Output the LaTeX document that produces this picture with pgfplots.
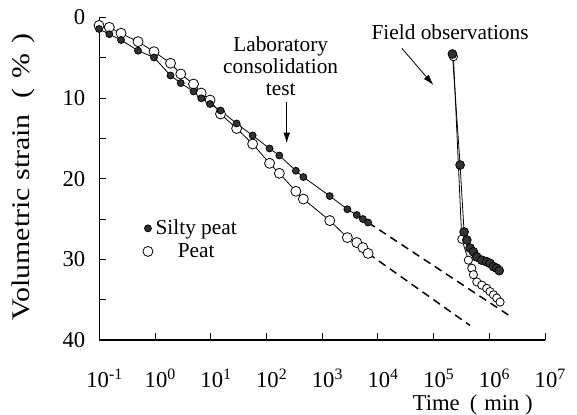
\documentclass[border=0pt]{standalone}
\usepackage{fontspec}
\setmainfont{Liberation Serif}
\newfontfamily\widefont[FakeStretch=1.18]{Liberation Serif}
\usepackage{pgfplots}
\pgfplotsset{compat=1.18}
\usetikzlibrary{arrows.meta}

\begin{document}
\begin{tikzpicture}
\begin{axis}[
  at={(0,0)}, anchor=south west,
  scale only axis, width=334.3pt, height=241.9pt,
  xmode=log, xmin=0.1, xmax=1e7,
  ymin=0, ymax=40, y dir=reverse,
  axis x line=bottom, axis y line=left,
  axis line style={-, line width=0.8pt},
  tick align=inside, major tick length=5pt, minor tick length=5pt,
  tick style={line width=0.6pt, black},
  xtick={0.1,1,10,100,1000,10000,100000,1000000,10000000},
  xticklabels={10\textsuperscript{-1},10\textsuperscript{0},10\textsuperscript{1},10\textsuperscript{2},10\textsuperscript{3},10\textsuperscript{4},10\textsuperscript{5},10\textsuperscript{6},10\textsuperscript{7}},
  xminorticks=false,
  ytick={0,10,20,30,40}, minor ytick={5,15,25,35},
  /pgf/number format/assume math mode=true,
  yticklabel style={font=\fontsize{17}{20}\selectfont, xshift=-7pt},
  xticklabel style={font=\fontsize{17}{20}\selectfont, yshift=-18pt, xshift=4pt},
  xlabel={Time\hspace{0.45em}(\hspace{0.3em}min\hspace{0.25em})},
  xlabel style={font=\fontsize{17}{20}\selectfont, at={([yshift=-48.5pt,xshift=8pt]axis cs:3.25e5,40)}, anchor=center},
  ylabel={\widefont Volumetric strain\hspace{0.6em}(\hspace{0.4em}\%\hspace{0.4em})},
  ylabel style={font=\fontsize{19}{22}\selectfont, at={([xshift=-57.2pt]axis cs:0.1,19.8)}, anchor=center},
  clip=false,
  reverse legend,
  legend image code/.code={\draw[#1] plot[only marks] coordinates {(0.25cm,0cm)};},
  legend style={draw=none, fill=none, font=\fontsize{16}{18}\selectfont,
    at={(axis cs:0.6,24.75)}, anchor=north west, row sep=1pt, inner sep=0pt},
  legend cell align=center,
]

% Peat, laboratory
\addplot[black, line width=0.6pt, mark=*, mark size=3.75pt, mark options={fill=white, draw=black, line width=0.6pt}]
coordinates {
(0.0988,0.99) (0.1512,1.22) (0.2453,1.96) (0.4953,3.00) (0.9594,4.24)
(1.898,5.68) (2.893,7.01) (4.912,8.25) (6.752,9.37) (9.714,10.24)
(14.99,11.97) (29.17,13.77) (56.53,15.69) (113.7,18.09) (170.4,19.33)
(337.2,21.56) (459.7,22.52) (1369,25.19) (2835,27.30) (4180,27.92)
(5380,28.54) (6671,29.26)
};
\addlegendentry{Peat}

% Silty peat, laboratory
\addplot[black, line width=0.6pt, mark=*, mark size=2.6pt, mark options={fill=black!80, draw=black}]
coordinates {
(0.0988,1.43) (0.1512,2.07) (0.2453,2.79) (0.4953,4.12) (0.9594,4.96)
(1.898,7.20) (2.893,8.13) (4.912,9.18) (6.752,10.02) (9.714,10.73)
(14.99,11.54) (29.17,13.15) (56.53,14.64) (113.7,16.25) (170.4,17.12)
(337.2,19.01) (459.7,19.79) (1369,22.15) (2835,23.78) (4180,24.50)
(5380,25.00) (6671,25.43)
};
\addlegendentry{Silty peat\hspace{0.15em}}

% extrapolated lab trends
\addplot[forget plot, black, line width=1.1pt, dash pattern=on 6pt off 4pt]
coordinates {(6671,25.43) (2.2e6,36.9)};
\addplot[forget plot, black, line width=1.1pt, dash pattern=on 6pt off 4pt]
coordinates {(6671,29.26) (4.5e5,38.2)};

% Peat, field
\addplot[forget plot, black, line width=0.6pt, mark=*, mark size=3.1pt, mark options={fill=white, draw=black, line width=0.6pt}]
coordinates {
(2.27e5,4.86) (3.21e5,27.5) (4.21e5,30.1) (4.85e5,31.1) (5.19e5,31.9)
(5.97e5,32.8) (7.33e5,33.2) (9.0e5,33.6) (1.03e6,34.0) (1.19e6,34.4)
(1.36e6,34.8) (1.56e6,35.3)
};

% Silty peat, field
\addplot[forget plot, black, line width=0.6pt, mark=*, mark size=3.3pt, mark options={fill=black!80, draw=black}]
coordinates {
(2.18e5,4.53) (2.99e5,18.3) (3.53e5,26.6) (3.95e5,27.6) (4.52e5,28.6)
(5.18e5,29.06) (5.96e5,29.7) (7.33e5,30.1) (9.0e5,30.3) (1.03e6,30.5)
(1.19e6,30.9) (1.36e6,31.1) (1.51e6,31.4)
};

% annotations
\node[align=center, font=\fontsize{16}{16.5}\selectfont] at (axis cs:180,6.0)
  {Laboratory\\consolidation\\test};
\draw[-{Latex[length=8pt,width=5pt]}, line width=0.6pt]
  (axis cs:231,10.48) -- (axis cs:231,15.61);
\node[font=\fontsize{16}{18}\selectfont] at (axis cs:1.98e5,1.8) {Field observations};
\draw[-{Latex[length=8pt,width=5pt]}, line width=0.6pt]
  (axis cs:2.69e4,3.82) -- (axis cs:9.9e4,8.37);

\coordinate (vis-bl) at (axis cs:0.1,40);
\end{axis}
\pgfresetboundingbox
\path[use as bounding box] ([xshift=-74.5pt,yshift=-56.25pt]vis-bl) rectangle ([xshift=358.3pt,yshift=255pt]vis-bl);
\end{tikzpicture}
\end{document}
